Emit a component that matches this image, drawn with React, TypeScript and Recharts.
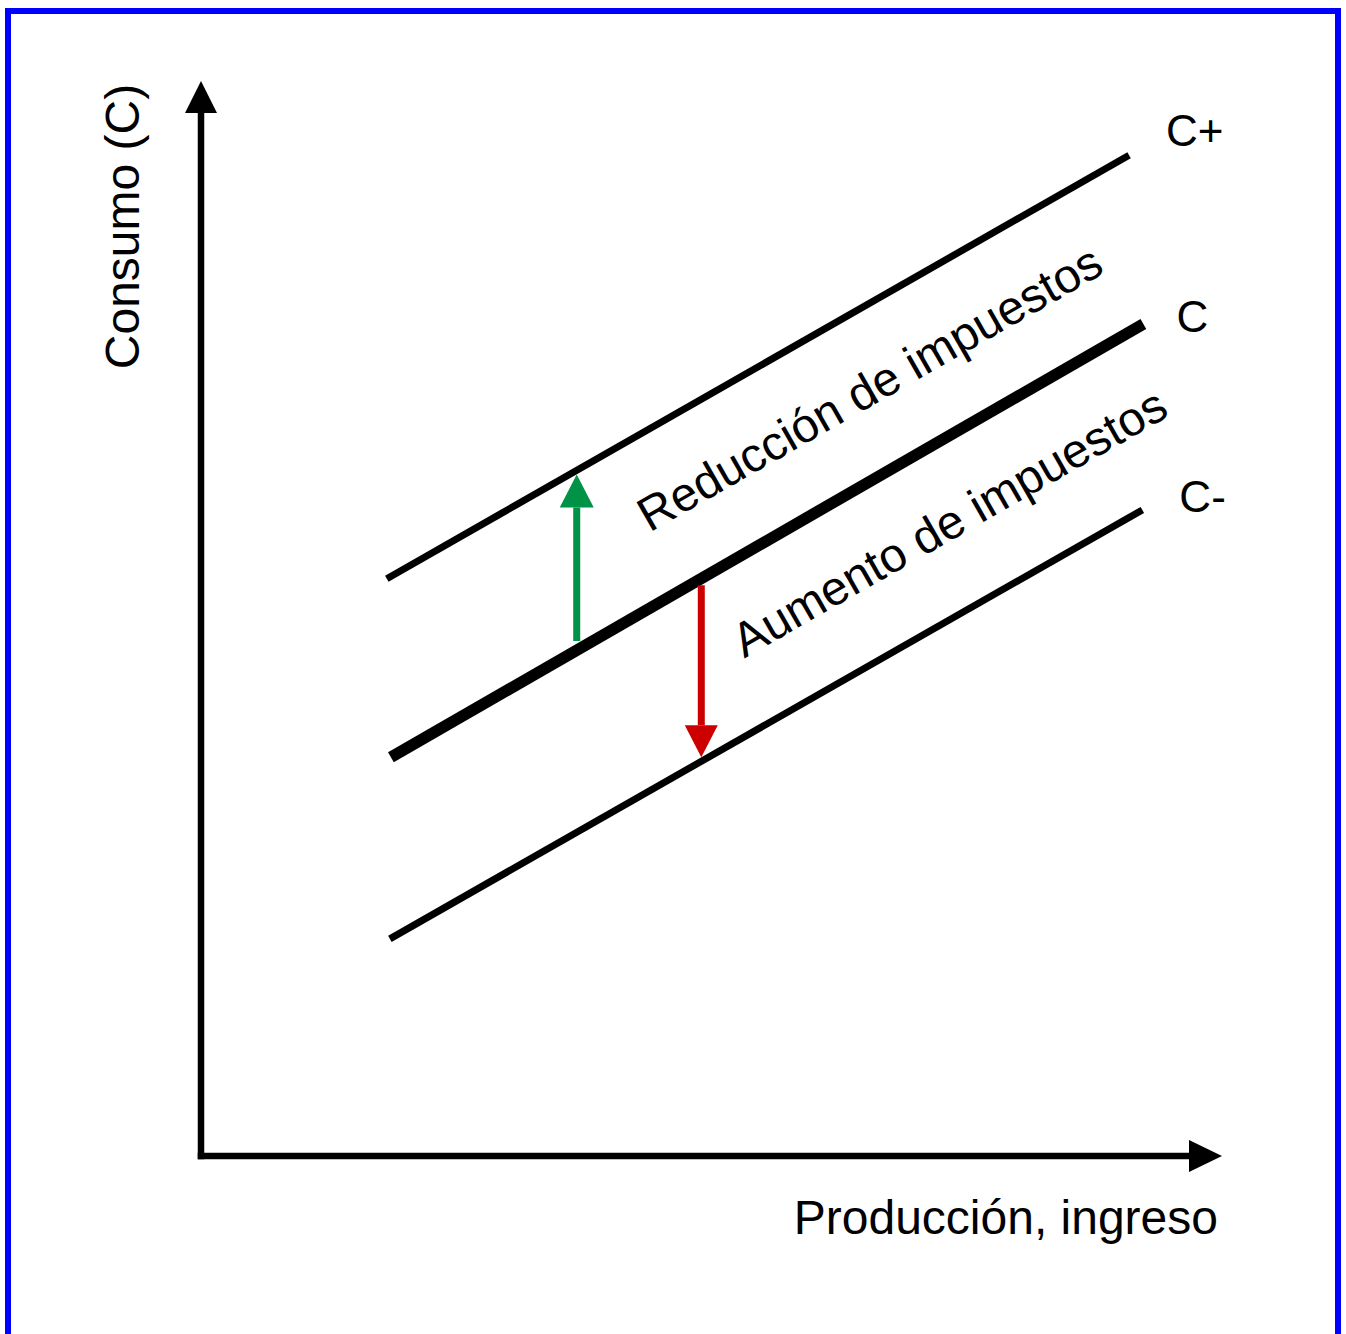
import * as React from 'react';
import {
  LineChart,
  Line,
  XAxis,
  YAxis,
  ReferenceLine,
  ReferenceDot,
} from 'recharts';

// consumption curves (data units, domain 0..10 on both axes)
const cPlus = [
  { x: 1.82, y: 5.37 },
  { x: 9.09, y: 9.31 },
];
const cBase = [
  { x: 1.86, y: 3.71 },
  { x: 9.23, y: 7.74 },
];
const cMinus = [
  { x: 1.85, y: 2.02 },
  { x: 9.22, y: 6.01 },
];
const curveNames = ['C+', 'C', 'C-'];

// shift arrows: [from, to]
const cutArrow = [
  { x: 3.68, y: 4.79 },
  { x: 3.68, y: 6.34 },
];
const raiseArrow = [
  { x: 4.9, y: 5.31 },
  { x: 4.9, y: 3.71 },
];

// rotated annotations, anchored at baseline centre
const notes = [
  { x: 6.63, y: 7.01, text: 'Reducción de impuestos' },
  { x: 7.41, y: 5.76, text: 'Aumento de impuestos' },
];

const xTitle = 'Producción, ingreso';
const yTitle = 'Consumo (C)';

const FONT = '"Liberation Sans", Arial, sans-serif';
const SLOPE_DEG = -29.7;

function arrowShape(color: string, width: number, headLen: number, headHalf: number, square = false) {
  return (props: any) => {
    const { x1, y1, x2, y2 } = props;
    const dx = x2 - x1;
    const dy = y2 - y1;
    const len = Math.sqrt(dx * dx + dy * dy) || 1;
    const ux = dx / len;
    const uy = dy / len;
    const bx = x2 - ux * headLen;
    const by = y2 - uy * headLen;
    const px = -uy * headHalf;
    const py = ux * headHalf;
    return (
      <g>
        <line
          x1={x1}
          y1={y1}
          x2={bx}
          y2={by}
          stroke={color}
          strokeWidth={width}
          strokeLinecap={square ? 'square' : 'butt'}
        />
        <polygon
          points={`${x2},${y2} ${bx + px},${by + py} ${bx - px},${by - py}`}
          fill={color}
        />
      </g>
    );
  };
}

function endLabel(text: string, dx: number, dy: number) {
  return (p: any) => (
    <text x={p.cx + dx} y={p.cy + dy} fontFamily={FONT} fontSize={44} fill="#000">
      {text}
    </text>
  );
}

function noteShape(text: string) {
  return (p: any) => (
    <text
      x={p.cx}
      y={p.cy}
      transform={`rotate(${SLOPE_DEG}, ${p.cx}, ${p.cy})`}
      textAnchor="middle"
      fontFamily={FONT}
      fontSize={48}
      fill="#000"
    >
      {text}
    </text>
  );
}

export default function App() {
  const curves = [cPlus, cBase, cMinus];
  const widths = [7, 11.5, 7];
  const labelOffsets = [
    [37, -9],
    [33, 8],
    [37, 2],
  ];

  return (
    <div
      style={{
        position: 'absolute',
        left: 0,
        top: 0,
        width: 1346,
        height: 1334,
        overflow: 'hidden',
        background: '#fff',
      }}
    >
      <div
        style={{
          position: 'absolute',
          left: 5,
          top: 8,
          width: 1336,
          height: 1400,
          border: '6px solid #0000FF',
          boxSizing: 'border-box',
        }}
      />
      <div style={{ position: 'absolute', left: 0, top: 0 }}>
        <LineChart
          width={1346}
          height={1334}
          margin={{ top: 81, right: 124, bottom: 0, left: 0 }}
        >
          <XAxis
            type="number"
            dataKey="x"
            domain={[0, 10]}
            allowDataOverflow
            height={178}
            tick={false}
            tickLine={false}
            axisLine={false}
            label={(p: any) => (
              <text
                x={p.viewBox.x + p.viewBox.width - 4}
                y={p.viewBox.y + 78}
                textAnchor="end"
                fontFamily={FONT}
                fontSize={48}
                fill="#000"
              >
                {xTitle}
              </text>
            )}
          />
          <YAxis
            type="number"
            dataKey="y"
            domain={[0, 10]}
            allowDataOverflow
            width={201}
            tick={false}
            tickLine={false}
            axisLine={false}
            label={(p: any) => {
              const cx = p.viewBox.x + 139;
              const cy = p.viewBox.y + 145.5;
              return (
                <text
                  x={cx}
                  y={cy}
                  transform={`rotate(-90, ${cx}, ${cy})`}
                  textAnchor="middle"
                  fontFamily={FONT}
                  fontSize={48}
                  fill="#000"
                >
                  {yTitle}
                </text>
              );
            }}
          />

          {/* axes with arrowheads */}
          <ReferenceLine
            segment={[{ x: 0, y: 0 }, { x: 0, y: 10 }]}
            ifOverflow="visible"
            shape={arrowShape('#000', 6.5, 32, 16, true)}
          />
          <ReferenceLine
            segment={[{ x: 0, y: 0 }, { x: 10, y: 0 }]}
            ifOverflow="visible"
            shape={arrowShape('#000', 6.5, 33, 16, true)}
          />

          {curves.map((data, i) => (
            <Line
              key={curveNames[i]}
              data={data}
              dataKey="y"
              type="linear"
              stroke="#000"
              strokeWidth={widths[i]}
              dot={false}
              activeDot={false}
              isAnimationActive={false}
            />
          ))}

          {curves.map((data, i) => (
            <ReferenceDot
              key={`lbl-${curveNames[i]}`}
              x={data[data.length - 1].x}
              y={data[data.length - 1].y}
              r={0}
              ifOverflow="visible"
              shape={endLabel(curveNames[i], labelOffsets[i][0], labelOffsets[i][1])}
            />
          ))}

          <ReferenceLine
            segment={cutArrow}
            ifOverflow="visible"
            shape={arrowShape('#009245', 7, 33, 17)}
          />
          <ReferenceLine
            segment={raiseArrow}
            ifOverflow="visible"
            shape={arrowShape('#CC0000', 7, 32, 16.5)}
          />

          {notes.map((n) => (
            <ReferenceDot
              key={n.text}
              x={n.x}
              y={n.y}
              r={0}
              ifOverflow="visible"
              shape={noteShape(n.text)}
            />
          ))}
        </LineChart>
      </div>
    </div>
  );
}
